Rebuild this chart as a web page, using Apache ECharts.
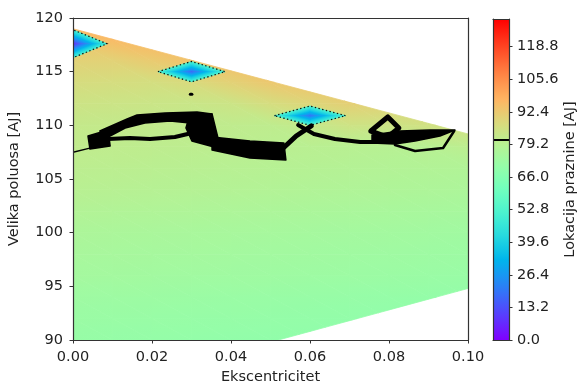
<!DOCTYPE html>
<html>
<head>
<meta charset="utf-8">
<script src="https://cdn.jsdelivr.net/npm/echarts@6/dist/echarts.min.js"></script>
<style>
html,body{margin:0;padding:0;background:#fff}
#chart{width:579px;height:385px}
</style>
</head>
<body>
<div id="chart"></div>
<script>
// ---- gap location field, sampled on a regular (e, a) mesh ----
const eccNodes = [0, 0.01, 0.02, 0.03, 0.04, 0.05, 0.06, 0.07, 0.08, 0.09, 0.10];
const axisNodes = [120, 118, 116, 114, 112, 110, 108, 106, 104, 102, 100, 98, 96, 94, 92, 90];
// one row per semi-major axis value (top to bottom), one column per eccentricity
const gapValues = [
  [99.0, 98.0, 97.0, 96.0, 95.5, 95.0, 94.0, 93.0, 90.0, 88.0, 86.0],
  [94.0, 96.0, 97.0, 96.0, 95.5, 95.0, 94.0, 93.0, 90.0, 88.0, 86.0],
  [90.0, 90.0, 92.0, 94.0, 95.5, 95.0, 94.0, 93.0, 90.0, 88.0, 86.0],
  [87.0, 86.7, 86.4, 87.7, 90.2, 92.7, 94.0, 93.0, 90.0, 88.0, 86.0],
  [84.5, 84.2, 83.9, 83.6, 84.2, 86.7, 88.7, 90.7, 90.0, 88.0, 86.0],
  [82.5, 82.2, 81.9, 81.6, 81.3, 81.0, 82.7, 84.7, 84.4, 85.4, 86.0],
  [81.5, 81.2, 80.9, 80.6, 80.3, 80.0, 79.7, 79.4, 79.1, 79.4, 80.4],
  [80.5, 80.2, 79.9, 79.6, 79.3, 79.0, 78.7, 78.4, 78.1, 77.8, 77.5],
  [79.5, 79.2, 78.9, 78.6, 78.3, 78.0, 77.7, 77.4, 77.1, 76.8, 76.5],
  [78.0, 77.7, 77.4, 77.1, 76.8, 76.5, 76.2, 75.9, 75.6, 75.3, 75.0],
  [76.5, 76.2, 75.9, 75.6, 75.3, 75.0, 74.7, 74.4, 74.1, 73.8, 73.5],
  [75.5, 75.2, 74.9, 74.6, 74.3, 74.0, 73.7, 73.4, 73.1, 72.8, 72.5],
  [74.5, 74.2, 73.9, 73.6, 73.3, 73.0, 72.7, 72.4, 72.1, 71.8, 71.5],
  [73.0, 72.7, 72.4, 72.1, 71.8, 71.5, 71.2, 70.9, 70.6, 70.3, 70.0],
  [72.0, 71.7, 71.4, 71.1, 70.8, 70.5, 70.2, 69.9, 69.6, 69.3, 69.0],
  [71.0, 70.7, 70.4, 70.1, 69.8, 69.5, 69.2, 68.9, 68.6, 68.3, 68.0]
];

// outline of the simulated region (convex hull of the runs)
const hullEcc  = [0, 0, 0.10, 0.10, 0.052];
const hullAxis = [90, 119, 109.2, 94.8, 90];

// isolated runs with a much closer gap
const dipEcc      = [0, 0.03, 0.06];
const dipAxis     = [117.6, 115.0, 110.9];
const dipValue    = [8, 18, 20];
const dipRimValue = [50, 52, 52];
const dipHalfEcc  = [0.0086, 0.0085, 0.009];
const dipHalfAxis = [1.3, 0.95, 0.9];

// iso-line of the gap location
const contourLevel = 81;
// closed pieces of the iso-line that merge into solid patches
const contourPatches = [
  [[0.0038, 109.0], [0.0089, 109.56], [0.0094, 108.07], [0.0043, 107.79]],
  [[0.0068, 109.47], [0.0137, 110.59], [0.0162, 110.96], [0.0233, 111.15], [0.0314, 111.24], [0.0352, 111.06],
   [0.0334, 110.40], [0.0296, 110.22], [0.0246, 110.40], [0.0182, 110.22], [0.0132, 109.75], [0.0089, 108.91]],
  [[0.0296, 111.06], [0.0352, 111.06], [0.0367, 108.82], [0.0357, 107.98], [0.0301, 108.54], [0.0286, 109.75]],
  [[0.0352, 108.91], [0.0448, 108.54], [0.0534, 108.35], [0.0539, 106.77], [0.0448, 106.96], [0.0352, 107.70]],
  [[0.0757, 109.10], [0.0828, 109.47], [0.0904, 109.56], [0.0967, 109.56], [0.0929, 109.01], [0.0866, 108.54],
   [0.0815, 108.26], [0.0757, 108.35]]
];
// open / thin pieces of the iso-line
const contourPaths = [
  [[0, 107.5], [0.0045, 107.9]],
  [[0.0089, 108.73], [0.0144, 108.82], [0.0195, 108.73], [0.0258, 108.91], [0.0301, 109.29]],
  [[0.0527, 107.70], [0.0565, 109.01], [0.0603, 109.94]],
  [[0.0570, 110.03], [0.0610, 109.19], [0.0663, 108.73], [0.0727, 108.45], [0.0772, 108.45]],
  [[0.0754, 109.47], [0.0797, 110.78], [0.0825, 109.75], [0.0797, 108.91], [0.0754, 109.47]],
  [[0.0965, 109.47], [0.0937, 107.89], [0.0866, 107.61], [0.0815, 108.17]],
  [[0.0297, 112.9], [0.0301, 112.9]]
];

// colour bar
const cbarMin = 0;
const cbarMax = 130;
const cbarTicks = [0, 13.2, 26.4, 39.6, 52.8, 66.0, 79.2, 92.4, 105.6, 118.8];

// ---------------------------------------------------------------
// matplotlib "rainbow" colormap
function rainbow(v) {
  let x = (v - cbarMin) / (cbarMax - cbarMin);
  x = Math.max(0, Math.min(1, x));
  const c = t => Math.round(255 * Math.max(0, Math.min(1, t)));
  const r = Math.abs(2 * x - 0.5), g = Math.sin(Math.PI * x), b = Math.cos(Math.PI * x / 2);
  return 'rgb(' + c(r) + ',' + c(g) + ',' + c(b) + ')';
}

// triangles of the mesh: [e0,a0,v0, e1,a1,v1, e2,a2,v2]
const triangles = [];
for (let r = 0; r < axisNodes.length - 1; r++) {
  for (let c = 0; c < eccNodes.length - 1; c++) {
    const n = (rr, cc) => [eccNodes[cc], axisNodes[rr], gapValues[rr][cc]];
    const A = n(r, c), B = n(r, c + 1), C = n(r + 1, c + 1), D = n(r + 1, c);
    triangles.push([...A, ...B, ...C]);
    triangles.push([...A, ...C, ...D]);
  }
}
// each isolated run is a diamond made of four triangles around its node
const dipOutlines = [];
for (let i = 0; i < dipEcc.length; i++) {
  const e = dipEcc[i], a = dipAxis[i], de = dipHalfEcc[i], da = dipHalfAxis[i];
  const rim = [[e - de, a], [e, a + da], [e + de, a], [e, a - da]];
  for (let k = 0; k < 4; k++) {
    const p = rim[k], q = rim[(k + 1) % 4];
    triangles.push([e, a, dipValue[i], p[0], p[1], dipRimValue[i], q[0], q[1], dipRimValue[i]]);
  }
  dipOutlines.push(rim.concat([rim[0]]));
}

function clipPoly(subject, clip) {
  let area = 0;
  for (let i = 0; i < clip.length; i++) {
    const P = clip[i], Q = clip[(i + 1) % clip.length];
    area += P[0] * Q[1] - Q[0] * P[1];
  }
  const s = area > 0 ? 1 : -1;
  let out = subject;
  for (let i = 0; i < clip.length && out.length; i++) {
    const A = clip[i], B = clip[(i + 1) % clip.length];
    const inside = P => s * ((B[0] - A[0]) * (P[1] - A[1]) - (B[1] - A[1]) * (P[0] - A[0])) >= 0;
    const cross = (P, Q) => {
      const d1x = Q[0] - P[0], d1y = Q[1] - P[1], d2x = B[0] - A[0], d2y = B[1] - A[1];
      const den = d1x * d2y - d1y * d2x;
      const t = ((A[0] - P[0]) * d2y - (A[1] - P[1]) * d2x) / den;
      return [P[0] + t * d1x, P[1] + t * d1y];
    };
    const inp = out; out = [];
    for (let j = 0; j < inp.length; j++) {
      const P = inp[j], Q = inp[(j + 1) % inp.length];
      const pin = inside(P), qin = inside(Q);
      if (pin) out.push(P);
      if (pin !== qin) out.push(cross(P, Q));
    }
  }
  return out;
}

// linear interpolation over a triangle == a linear gradient along the value gradient
function triFill(p, v) {
  const lo = Math.min(v[0], v[1], v[2]), hi = Math.max(v[0], v[1], v[2]);
  const d1x = p[1][0] - p[0][0], d1y = p[1][1] - p[0][1];
  const d2x = p[2][0] - p[0][0], d2y = p[2][1] - p[0][1];
  const det = d1x * d2y - d1y * d2x;
  if (Math.abs(det) < 1e-9 || hi - lo < 1e-6) return rainbow(lo);
  const D1 = v[1] - v[0], D2 = v[2] - v[0];
  const gx = (D1 * d2y - D2 * d1y) / det, gy = (D2 * d1x - D1 * d2x) / det;
  const gg = gx * gx + gy * gy;
  const n = Math.max(2, Math.ceil((hi - lo) / 2));
  const stops = [];
  for (let k = 0; k <= n; k++) stops.push({ offset: k / n, color: rainbow(lo + (hi - lo) * k / n) });
  return {
    type: 'linear', global: true,
    x: p[0][0] + gx * (lo - v[0]) / gg, y: p[0][1] + gy * (lo - v[0]) / gg,
    x2: p[0][0] + gx * (hi - v[0]) / gg, y2: p[0][1] + gy * (hi - v[0]) / gg,
    colorStops: stops
  };
}

function hullPixels(api) {
  return hullEcc.map((e, i) => api.coord([e, hullAxis[i]]));
}

function renderTriangle(params, api) {
  const p = [], v = [];
  for (let k = 0; k < 3; k++) {
    p.push(api.coord([api.value(3 * k), api.value(3 * k + 1)]));
    v.push(api.value(3 * k + 2));
  }
  const poly = clipPoly(p, hullPixels(api));
  if (poly.length < 3) return null;
  const fill = triFill(p, v);
  return { type: 'polygon', silent: true, shape: { points: poly }, style: { fill: fill, stroke: fill, lineWidth: 0.8 } };
}

const patchStyle = { fill: '#000', stroke: '#000', lineWidth: 1.5, lineJoin: 'round' };
const pathWidths = [1.5, 4, 5, 4, 5, 2.5, 3];

function renderPatch(params, api) {
  const pts = contourPatches[api.value(0)].map(d => api.coord(d));
  return { type: 'polygon', silent: true, shape: { points: pts }, style: patchStyle };
}
function renderPath(params, api) {
  const i = api.value(0);
  const pts = contourPaths[i].map(d => api.coord(d));
  return { type: 'polyline', silent: true, shape: { points: pts },
    style: { fill: null, stroke: '#000', lineWidth: pathWidths[i], lineJoin: 'round', lineCap: 'round' } };
}
function renderOutline(params, api) {
  const pts = dipOutlines[api.value(0)].map(d => api.coord(d));
  return { type: 'polyline', silent: true, shape: { points: pts },
    style: { fill: null, stroke: '#111', lineWidth: 1.2, lineDash: [1.4, 2.4] } };
}
function renderColorbar(params, api) {
  const p0 = api.coord([0, cbarMin]), p1 = api.coord([1, cbarMax]);
  const stops = [];
  const n = 60;
  for (let k = 0; k <= n; k++) stops.push({ offset: k / n, color: rainbow(cbarMin + (cbarMax - cbarMin) * k / n) });
  const lv0 = api.coord([0, contourLevel]), lv1 = api.coord([1, contourLevel]);
  return {
    type: 'group', children: [
      { type: 'rect', silent: true,
        shape: { x: p0[0], y: p1[1], width: p1[0] - p0[0], height: p0[1] - p1[1] },
        style: { fill: { type: 'linear', x: 0, y: 1, x2: 0, y2: 0, colorStops: stops } } },
      { type: 'line', silent: true, shape: { x1: lv0[0], y1: lv0[1], x2: lv1[0], y2: lv1[1] },
        style: { stroke: '#000', lineWidth: 2 } }
    ]
  };
}

const ink = '#222';
const frame = { show: true, onZero: false, lineStyle: { color: '#333', width: 1.2 } };
const font = { fontFamily: 'DejaVu Sans', fontSize: 14.5, color: ink };
const bare = { axisTick: { show: false }, axisLabel: { show: false }, splitLine: { show: false }, axisLine: frame, z: 10 };

const chart = echarts.init(document.getElementById('chart'), null, { renderer: 'canvas' });
chart.setOption({
  animation: false,
  backgroundColor: '#fff',
  textStyle: { fontFamily: 'DejaVu Sans' },
  grid: [
    { left: 73, top: 18, width: 395, height: 322, containLabel: false, outerBoundsMode: 'none' },
    { left: 493, top: 19, width: 16, height: 321, containLabel: false, outerBoundsMode: 'none' }
  ],
  xAxis: [
    { gridIndex: 0, type: 'value', min: 0, max: 0.1, interval: 0.02, position: 'bottom',
      name: 'Ekscentricitet', nameLocation: 'middle', nameGap: 30, nameTextStyle: font,
      axisLine: frame, axisTick: { show: true, length: 3.5, lineStyle: { color: '#333', width: 1 } },
      axisLabel: Object.assign({ margin: 10, formatter: v => v.toFixed(2) }, font),
      splitLine: { show: false }, z: 10 },
    Object.assign({ gridIndex: 0, type: 'value', min: 0, max: 0.1, position: 'top' }, bare),
    Object.assign({ gridIndex: 1, type: 'value', min: 0, max: 1, position: 'bottom' }, bare),
    Object.assign({ gridIndex: 1, type: 'value', min: 0, max: 1, position: 'top' }, bare)
  ],
  yAxis: [
    { gridIndex: 0, type: 'value', min: 90, max: 120, interval: 5, position: 'left',
      name: 'Velika poluosa [AJ]', nameLocation: 'middle', nameGap: 51, nameTextStyle: font,
      axisLine: frame, axisTick: { show: true, length: 3.5, lineStyle: { color: '#333', width: 1 } },
      axisLabel: Object.assign({ margin: 10 }, font),
      splitLine: { show: false }, z: 10 },
    Object.assign({ gridIndex: 0, type: 'value', min: 90, max: 120, position: 'right' }, bare),
    { gridIndex: 1, type: 'value', min: cbarMin, max: cbarMax, position: 'right',
      name: 'Lokacija praznine [AJ]', nameLocation: 'middle', nameRotate: 90, nameGap: 52, nameTextStyle: font,
      axisLine: frame,
      axisTick: { show: true, length: 3.5, customValues: cbarTicks, lineStyle: { color: '#333', width: 1 } },
      axisLabel: Object.assign({ margin: 8, customValues: cbarTicks, formatter: v => v.toFixed(1) }, font),
      splitLine: { show: false }, z: 10 },
    Object.assign({ gridIndex: 1, type: 'value', min: cbarMin, max: cbarMax, position: 'left' }, bare)
  ],
  series: [
    { type: 'custom', name: 'field', xAxisIndex: 0, yAxisIndex: 0, renderItem: renderTriangle,
      data: triangles, clip: true, silent: true, z: 1 },
    { type: 'custom', name: 'dip outline', xAxisIndex: 0, yAxisIndex: 0, renderItem: renderOutline,
      data: dipOutlines.map((_, i) => [i]), clip: true, silent: true, z: 2 },
    { type: 'custom', name: 'contour patches', xAxisIndex: 0, yAxisIndex: 0, renderItem: renderPatch,
      data: contourPatches.map((_, i) => [i]), clip: true, silent: true, z: 3 },
    { type: 'custom', name: 'contour lines', xAxisIndex: 0, yAxisIndex: 0, renderItem: renderPath,
      data: contourPaths.map((_, i) => [i]), clip: true, silent: true, z: 3 },
    { type: 'custom', name: 'colorbar', xAxisIndex: 2, yAxisIndex: 2, renderItem: renderColorbar,
      data: [[0]], clip: false, silent: true, z: 1 }
  ]
});
</script>
</body>
</html>
